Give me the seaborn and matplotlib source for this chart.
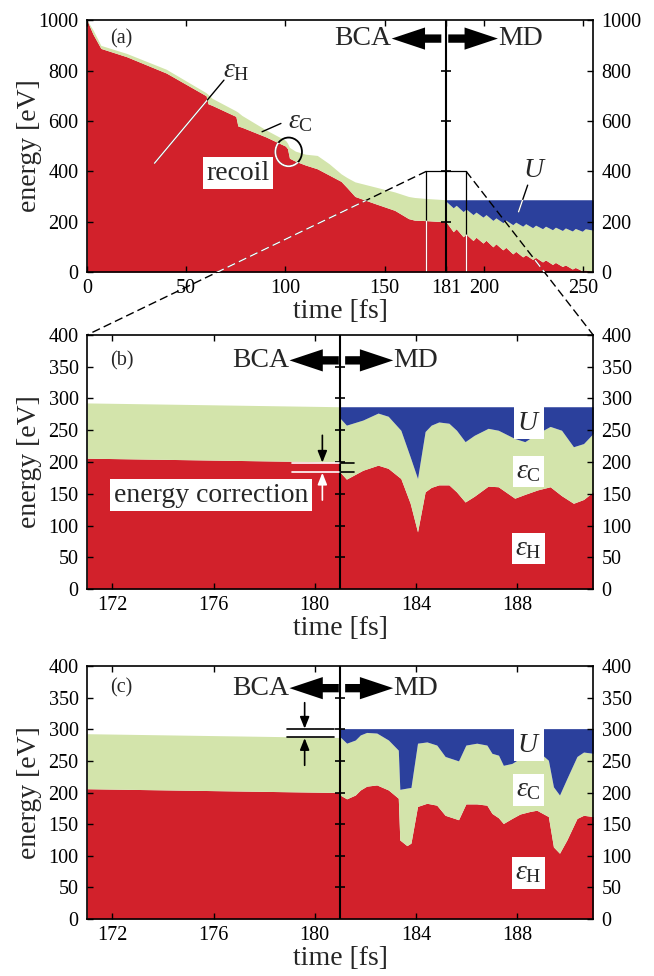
import numpy as np
import matplotlib.pyplot as plt
import seaborn as sns
from matplotlib.patches import Ellipse
from matplotlib.path import Path

sns.set_theme(style="ticks")
plt.rcParams["font.family"] = ["Liberation Serif", "DejaVu Serif"]
plt.rcParams.update({
    "mathtext.fontset": "custom",
    "mathtext.rm": "Liberation Serif",
    "mathtext.it": "Liberation Serif:italic",
    "axes.linewidth": 1.2,
    "axes.axisbelow": False,
    "axes.edgecolor": "black",
})

RED = "#d2212b"
GREEN = "#d3e4ab"
BLUE = "#2b409c"

# ---------- data: panel (a), whole trajectory ----------
a_bca_t = [0, 3, 7, 20, 40, 60, 61, 63, 75, 76, 78, 90, 100, 101, 102, 105,
           110, 116, 122, 128, 131, 135, 145, 155, 162, 165, 171, 181]
a_bca_h = [1000, 945, 888, 855, 790, 700, 668, 662, 618, 580, 575, 537, 500,
           490, 452, 440, 425, 410, 385, 360, 335, 300, 272, 245, 212, 206,
           204, 199]
a_bca_hc = [1000, 962, 900, 868, 805, 712, 705, 690, 640, 635, 622, 565, 523,
            512, 495, 480, 468, 463, 430, 390, 375, 358, 338, 318, 300, 296,
            292, 287]

a_md_t = [181, 184.5, 186, 189.5, 191, 194.5, 196, 199.5, 201, 204.5, 206,
          209.5, 211, 214.5, 216, 219.5, 221, 224.5, 226, 229.5, 231, 234.5,
          236, 239.5, 241, 244.5, 246, 249.5, 251, 255]
a_md_h = [198, 160, 172, 140, 150, 125, 138, 115, 126, 100, 112, 88, 98, 72,
          82, 60, 68, 50, 58, 40, 48, 30, 38, 22, 28, 12, 18, 5, 8, 2]
a_md_hc = [280, 255, 265, 240, 250, 228, 238, 218, 228, 205, 215, 196, 206,
           188, 198, 182, 192, 176, 186, 172, 182, 168, 178, 165, 175, 163,
           173, 162, 172, 166]
a_total = 287

# ---------- data: zoomed panels (b) and (c) ----------
z_bca_t = [171, 181]
z_bca_h = [206, 200]
z_bca_hc = [293, 287]

b_md_t = [181.0, 181.25, 181.9, 182.5, 182.9, 183.4, 183.77, 184.06, 184.36,
          184.6, 184.9, 185.3, 185.6, 185.94, 186.3, 186.85, 187.25, 187.9,
          188.3, 188.8, 189.3, 189.75, 190.22, 190.62, 191.0]
b_md_h = [184, 173, 187, 195, 190, 174, 135, 90, 153, 160, 164, 164, 153, 137,
          146, 162, 161, 143, 149, 156, 161, 147, 135, 141, 153]
b_md_hc = [269, 258, 266, 277, 272, 250, 208, 174, 248, 258, 263, 261, 250,
           232, 242, 253, 250, 237, 232, 245, 256, 250, 224, 229, 245]
b_total = 287

c_md_t = [181.0, 181.26, 181.6, 181.8, 182.05, 182.45, 182.91, 183.3, 183.36,
          183.64, 183.8, 184.06, 184.43, 184.82, 185.15, 185.68, 185.97, 186.4,
          186.8, 187.0, 187.26, 187.45, 187.79, 188.11, 188.5, 188.77, 189.23,
          189.43, 189.67, 189.96, 190.36, 190.62, 191.0]
c_md_h = [196, 190, 196, 204, 210, 212, 204, 191, 125, 116, 120, 178, 183, 180,
          164, 157, 182, 182, 180, 167, 160, 151, 159, 166, 170, 172, 162, 114,
          104, 125, 159, 164, 162]
c_md_hc = [288, 278, 283, 291, 295, 294, 283, 267, 205, 207, 208, 278, 280,
           275, 257, 250, 275, 278, 275, 262, 259, 243, 246, 254, 262, 267,
           251, 209, 196, 222, 257, 264, 262]
c_total = 301

T_SWITCH = 181


def stack(ax, t, h, hc, total=None):
    red = ax.fill_between(t, 0, h, color=RED, lw=0)
    ax.fill_between(t, h, hc, color=GREEN, lw=0)
    blue = None
    if total is not None:
        blue = ax.fill_between(t, hc, total, color=BLUE, lw=0)
    return red, blue


def compound(*colls):
    return Path.make_compound_path(*[p for c in colls for p in c.get_paths()])


def style_axes(ax, xlim, ylim, xticks, yticks):
    ax.set_xlim(*xlim)
    ax.set_ylim(*ylim)
    ax.set_xticks(xticks)
    ax.set_yticks(yticks)
    ax.tick_params(direction="in", length=4, width=1, top=True, right=True,
                   labelright=True, labelsize=14.5, colors="black")
    ax.tick_params(axis="x", pad=5)
    ax.tick_params(axis="y", pad=6)
    ax.set_xlabel("time [fs]", fontsize=20, labelpad=1)
    ax.set_ylabel("energy [eV]", fontsize=20)
    ax.yaxis.set_label_coords(-0.089, 0.5)
    # divider between BCA and MD with its own tick marks
    ax.axvline(T_SWITCH, color="black", lw=1.5, zorder=3)
    ax.plot([T_SWITCH] * (len(yticks) - 2), yticks[1:-1], ls="none",
            marker="_", ms=7, mew=1.2, color="black", zorder=3)
    for s in ax.spines.values():
        s.set_zorder(4)


def color_ticks(ax, xs, tops):
    x0, x1 = ax.get_xlim()
    lt = np.interp(x0, xs, tops)
    rt = np.interp(x1, xs, tops)
    for tk, v in zip(ax.yaxis.get_major_ticks(), ax.get_yticks()):
        tk.tick1line.set_color("white" if v < lt else "black")
        tk.tick2line.set_color("white" if v < rt else "black")
    for tk in ax.xaxis.get_major_ticks():
        tk.tick1line.set_color("white")


def header(ax, y, l_tip, l_tail, r_tail, r_tip):
    style = "simple,head_length=1.2,head_width=0.8,tail_width=0.3"
    for tip, tail in [(l_tip, l_tail), (r_tip, r_tail)]:
        ax.annotate("", xy=(tip, y), xytext=(tail, y),
                    arrowprops=dict(arrowstyle=style, fc="black", ec="black",
                                    lw=0, shrinkA=0, shrinkB=0,
                                    mutation_scale=20), zorder=5)
    ax.text(l_tip, y, "BCA", fontsize=20, ha="right", va="center", zorder=5)
    ax.text(r_tip, y, "MD", fontsize=20, ha="left", va="center", zorder=5)


def boxed(ax, x, y, s):
    ax.text(x, y, s, fontsize=20, ha="center", va="center", zorder=5,
            bbox=dict(boxstyle="square,pad=0.12", fc="white", ec="none"))


def small_arrow(ax, x, y_from, y_to, color):
    ax.annotate("", xy=(x, y_to), xytext=(x, y_from),
                arrowprops=dict(arrowstyle="-|>,head_length=0.5,head_width=0.2",
                                color=color, lw=1.2, shrinkA=0, shrinkB=0,
                                mutation_scale=14), zorder=5)


def two_tone(ax, xs, ys, clip, lw=1.0, **kw):
    # black line, repainted white where it runs over the given fill
    ax.plot(xs, ys, color="black", lw=lw, zorder=3, **kw)
    w = ax.plot(xs, ys, color="white", lw=lw, zorder=3, **kw)[0]
    w.set_clip_path(clip, ax.transData)


fig = plt.figure(figsize=(6.54, 9.76), dpi=100)
ax_a = fig.add_axes([0.133, 0.7213, 0.774, 0.258])
ax_b = fig.add_axes([0.133, 0.3965, 0.774, 0.2603])
ax_c = fig.add_axes([0.133, 0.0584, 0.774, 0.2592])

# ---------- panel (a) ----------
red1, _ = stack(ax_a, a_bca_t, a_bca_h, a_bca_hc)
red2, blue_a = stack(ax_a, a_md_t, a_md_h, a_md_hc, a_total)
red_path = compound(red1, red2)
style_axes(ax_a, (0, 255), (0, 1000), [0, 50, 100, 150, 181, 200, 250],
           list(range(0, 1001, 200)))
color_ticks(ax_a, a_bca_t + a_md_t[1:], a_bca_hc + [a_total] * (len(a_md_t) - 1))

# zoom box and pointer lines
two_tone(ax_a, [171, 171, 191, 191], [0, 400, 400, 0], red_path, lw=0.9)
two_tone(ax_a, [34, 69], [432, 762], red_path)
ax_a.text(75, 801, r"$\varepsilon_\mathrm{H}$", fontsize=20, ha="center",
          va="center")

ax_a.plot([88.2, 97.7], [557, 590], color="black", lw=1, zorder=3)
ax_a.text(107.5, 596, r"$\varepsilon_\mathrm{C}$", fontsize=20, ha="center",
          va="center")

two_tone(ax_a, [217.4, 222], [239, 345], blue_a.get_paths()[0])
ax_a.text(225.7, 405, "$U$", fontsize=20, ha="center", va="center")

ring = Ellipse((101.6, 477), 13.4, 114, fill=False, ec="black", lw=1.3,
               zorder=3)
ax_a.add_patch(ring)
ring_w = Ellipse((101.6, 477), 13.4, 114, fill=False, ec="white", lw=1.3,
                 zorder=3)
ax_a.add_patch(ring_w)
ring_w.set_clip_path(red_path, ax_a.transData)

boxed(ax_a, 76, 392, "recoil")
ax_a.text(17.2, 927, "(a)", fontsize=14.5, ha="center", va="center")
header(ax_a, 927, 153.5, 178.5, 182, 207)

# dashed pointers from the zoom box in (a) to the corners of (b)
to_a = ax_a.transData.inverted()
for xa, corner in [(171, (0, 1)), (191, (1, 1))]:
    xe, ye = to_a.transform(ax_b.transAxes.transform(corner))
    ax_a.plot([xa, xe], [400, ye], color="black", lw=1.0, ls=(0, (6, 3)),
              clip_on=False, zorder=6)
    w = ax_a.plot([xa, xe], [400, ye], color="white", lw=1.0, ls=(0, (6, 3)),
                  zorder=7)[0]
    w.set_clip_path(red_path, ax_a.transData)

# ---------- panels (b) and (c) ----------
zticks = list(range(0, 401, 50))
for ax, t, h, hc, tot, lab, ly in [
        (ax_b, b_md_t, b_md_h, b_md_hc, b_total, "(b)", 360),
        (ax_c, c_md_t, c_md_h, c_md_hc, c_total, "(c)", 365)]:
    stack(ax, z_bca_t, z_bca_h, z_bca_hc)
    stack(ax, t, h, hc, tot)
    style_axes(ax, (171, 191), (0, 400), [172, 176, 180, 184, 188], zticks)
    color_ticks(ax, z_bca_t + t[1:], z_bca_hc + [tot] * (len(t) - 1))
    ax.text(172.37, ly, lab, fontsize=14.5, ha="center", va="center")
    header(ax, ly, 179.0, 180.95, 181.2, 183.1)

boxed(ax_b, 188.45, 261, "$U$")
boxed(ax_b, 188.45, 185, r"$\varepsilon_\mathrm{C}$")
boxed(ax_b, 188.45, 64, r"$\varepsilon_\mathrm{H}$")
boxed(ax_c, 188.45, 275, "$U$")
boxed(ax_c, 188.45, 204, r"$\varepsilon_\mathrm{C}$")
boxed(ax_c, 188.45, 73, r"$\varepsilon_\mathrm{H}$")

# energy correction marks in (b)
for yv in [198, 184]:
    ax_b.plot([179.1, 181], [yv, yv], color="white", lw=1.2, zorder=4)
    ax_b.plot([181, 181.55], [yv, yv], color="black", lw=1.2, zorder=4)
small_arrow(ax_b, 180.3, 242, 199, "black")
small_arrow(ax_b, 180.3, 140, 183, "white")
boxed(ax_b, 175.9, 148, "energy correction")

# offset marks in (c)
for yv in [300, 287]:
    ax_c.plot([178.9, 180.75], [yv, yv], color="black", lw=1.2, zorder=4)
small_arrow(ax_c, 179.6, 342, 301, "black")
small_arrow(ax_c, 179.6, 243, 286, "black")

fig.savefig("out.png", dpi=100)
